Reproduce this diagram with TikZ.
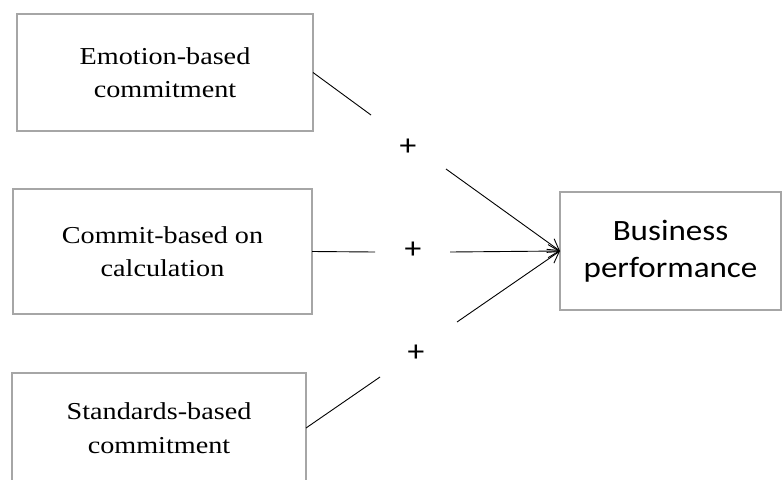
\documentclass[tikz,border=0pt]{standalone}
\usepackage{fontspec}
\newfontfamily\boxserif[FakeStretch=1.16]{Liberation Serif}
\newfontfamily\boxsans[FakeStretch=1.12]{Carlito}
\usetikzlibrary{arrows.meta}
\begin{document}
\begin{tikzpicture}[x=1pt,y=-1pt,
  srcbox/.style={draw=black!35, line width=2pt, align=center, inner sep=0pt, outer sep=0pt,
    font=\boxserif\fontsize{24.3}{33.5}\selectfont},
  tgtbox/.style={draw=black!35, line width=2pt, align=center, inner sep=0pt, outer sep=0pt,
    font=\boxsans\fontsize{29.5}{37}\selectfont},
  plus/.style={font=\boxsans\fontsize{30}{32}\selectfont, inner sep=0pt},
  conn/.style={line width=0.9pt, black},
  arr/.style={conn, -{Straight Barb[length=11pt,width=13pt,line width=0.9pt]}}
]
\useasboundingbox (0,0) rectangle (783,479);
\clip (0,0) rectangle (783,479);
\node[srcbox, minimum width=296pt, minimum height=117pt] (e1) at (165,72.5) {Emotion-based\\commitment};
\node[srcbox, minimum width=299pt, minimum height=125pt] (e2) at (162.5,251.5) {Commit-based on\\calculation};
\node[srcbox, minimum width=294pt, minimum height=110pt] (e3) at (159,428) {Standards-based\\commitment};
\node[tgtbox, minimum width=221pt, minimum height=118pt] (biz) at (670.5,251) {Business\\performance};
\node[plus] (p1) at (408,147) {+};
\node[plus] (p2) at (413,250) {+};
\node[plus] (p3) at (416,353) {+};
\coordinate (c1a) at (371,115);
\coordinate (c1b) at (446,169);
\coordinate (c2a) at (375,252);
\coordinate (c2b) at (450,252);
\coordinate (c3a) at (380,377);
\coordinate (c3b) at (457,322);
\draw[conn] (e1.east) -- (c1a);
\draw[arr] (c1b) -- (biz.west);
\draw[conn] (e2.east) -- (c2a);
\draw[arr] (c2b) -- (biz.west);
\draw[conn] (e3.east) -- (c3a);
\draw[arr] (c3b) -- (biz.west);
\end{tikzpicture}
\end{document}
